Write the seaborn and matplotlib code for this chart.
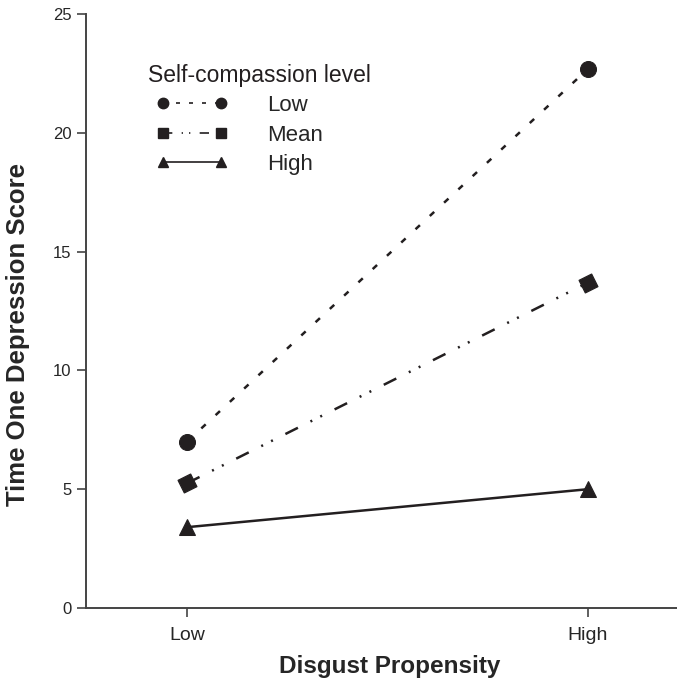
import matplotlib
matplotlib.use("Agg")
import matplotlib.pyplot as plt
from matplotlib.lines import Line2D
import pandas as pd
import seaborn as sns

# -------------------------------
# DATA
# -------------------------------
disgust = ["Low", "High"]
levels = ["Low", "Mean", "High"]
low_sc = [7.0, 22.7]
mean_sc = [5.25, 13.7]
high_sc = [3.4, 5.0]

df = pd.DataFrame({
    "disgust": disgust * 3,
    "level": [lv for lv in levels for _ in disgust],
    "score": low_sc + mean_sc + high_sc,
})

sns.set_style("ticks")
plt.rcParams["font.family"] = ["Liberation Sans", "DejaVu Sans"]

ink = "#231f20"
styles = {
    "Low": dict(ls=(0, (2.4, 5.4)), marker="o", ms=11.5, lms=7.5),
    "Mean": dict(ls=(0, (5.6, 5.6, 0.8, 3.6, 0.8, 5.6)), marker=(4, 0, 45 + 26.6), ms=14.5, lms=7.5),
    "High": dict(ls="-", marker="^", ms=11, lms=7.5),
}

fig = plt.figure(figsize=(6.77, 6.80), dpi=100)
ax = fig.add_axes([0.127, 0.106, 0.873, 0.873])

for lv in levels:
    st = styles[lv]
    sub = df[df["level"] == lv]
    sns.lineplot(data=sub, x="disgust", y="score", ax=ax, sort=False,
                 color=ink, linewidth=1.8, linestyle=st["ls"],
                 marker=st["marker"], markersize=st["ms"],
                 markeredgecolor=ink, markerfacecolor=ink)

ax.set_xlim(-0.252, 1.222)
ax.set_ylim(0, 25)
ax.set_yticks([0, 5, 10, 15, 20, 25])
ax.set_xticks([0, 1])
ax.set_xticklabels(disgust)
ax.tick_params(axis="x", labelsize=14, length=6.5, width=1.2, color="#444444", pad=7)
ax.tick_params(axis="y", labelsize=12, length=6.5, width=1.2, color="#444444", pad=4)
for s in ["top", "right"]:
    ax.spines[s].set_visible(False)
for s in ["left", "bottom"]:
    ax.spines[s].set_color("#444444")
    ax.spines[s].set_linewidth(1.4)

ax.set_xlabel("Disgust Propensity", fontsize=17.5, fontweight="bold")
ax.set_ylabel("Time One Depression Score", fontsize=18.5, fontweight="bold")
ax.xaxis.set_label_coords(0.514, -0.079)
ax.yaxis.set_label_coords(-0.095, 0.46)

handles = []
for lv in levels:
    st = styles[lv]
    mk = "s" if lv == "Mean" else st["marker"]
    handles.append(Line2D([0], [0], color=ink, linewidth=1.2, linestyle=st["ls"],
                          marker=mk, markersize=st["lms"], markerfacecolor=ink,
                          markeredgecolor=ink))
leg = ax.legend(handles, levels, loc="upper left",
                bbox_to_anchor=(0.093, 0.89), frameon=False, fontsize=16,
                numpoints=2, handlelength=3.2, borderpad=0.2,
                handletextpad=1.8, labelspacing=0.38)
ax.text(0.105, 0.897, "Self-compassion level", transform=ax.transAxes,
        fontsize=16.5, ha="left", va="center", color=ink)

fig.savefig("out.png", dpi=100)
